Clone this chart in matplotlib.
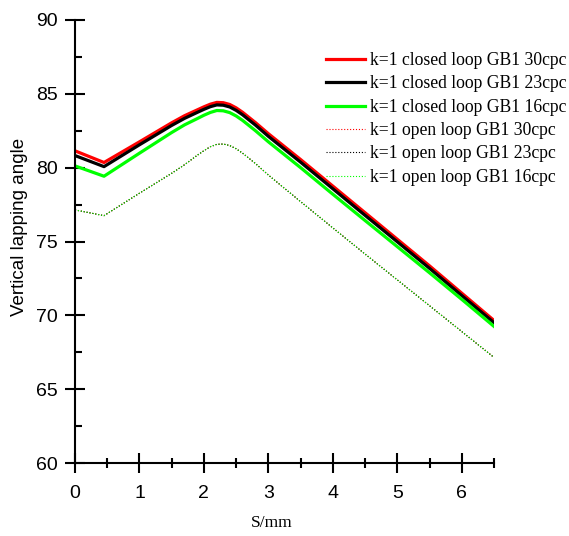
import numpy as np
import matplotlib
matplotlib.use('Agg')
import matplotlib.pyplot as plt
from matplotlib.ticker import MultipleLocator

# S/mm sample points
s_mm = [0.0, 0.45, 1.0, 1.5, 1.7, 1.9, 2.0, 2.1, 2.2, 2.3, 2.4, 2.5, 2.6, 2.8, 3.0,
        3.5, 4.0, 4.5, 5.0, 5.5, 6.0, 6.5]

# closed loop curves
closed_30 = [81.14, 80.35, 81.75, 83.04, 83.52, 83.92, 84.12, 84.30, 84.42, 84.40, 84.28,
             84.05, 83.75, 83.05, 82.30, 80.55, 78.75, 76.95, 75.15, 73.35, 71.50, 69.65]
closed_23 = [80.82, 80.07, 81.55, 82.86, 83.34, 83.75, 83.95, 84.13, 84.25, 84.23, 84.11,
             83.88, 83.58, 82.88, 82.12, 80.37, 78.57, 76.77, 74.98, 73.18, 71.34, 69.50]
closed_16 = [80.12, 79.42, 80.98, 82.38, 82.90, 83.33, 83.55, 83.74, 83.87, 83.85, 83.73,
             83.50, 83.20, 82.50, 81.75, 80.00, 78.20, 76.42, 74.65, 72.88, 71.08, 69.25]

# open loop curves (the three coincide)
open_30 = [77.14, 76.75, 78.27, 79.62, 80.20, 80.85, 81.15, 81.42, 81.58, 81.60, 81.50,
           81.28, 80.98, 80.28, 79.50, 77.70, 75.92, 74.15, 72.40, 70.65, 68.90, 67.15]
open_23 = list(open_30)
open_16 = list(open_30)

labels = ['k=1 closed loop GB1 30cpc', 'k=1 closed loop GB1 23cpc', 'k=1 closed loop GB1 16cpc',
          'k=1 open loop GB1 30cpc', 'k=1 open loop GB1 23cpc', 'k=1 open loop GB1 16cpc']

fig = plt.figure(figsize=(5.69, 5.36), dpi=100)
ax = fig.add_axes([75/569, 73/536, 419/569, 443/536])

ax.plot(s_mm, closed_30, color='#ff0000', lw=2.3, label=labels[0])
ax.plot(s_mm, closed_23, color='black', lw=2.3, label=labels[1])
ax.plot(s_mm, closed_16, color='#00ff00', lw=2.3, label=labels[2])
ax.plot(s_mm, open_30, color='#ff0000', lw=0.8, ls=':', label=labels[3])
ax.plot(s_mm, open_23, color='black', lw=0.8, ls=':', label=labels[4])
ax.plot(s_mm, open_16, color='#00ff00', lw=0.8, ls=':', label=labels[5])

ax.set_xlim(0, 6.5)
ax.set_ylim(60, 90)
ax.spines['top'].set_visible(False)
ax.spines['right'].set_visible(False)
ax.spines['left'].set_linewidth(1.5)
ax.spines['bottom'].set_linewidth(1.5)

ax.xaxis.set_major_locator(MultipleLocator(1))
ax.xaxis.set_minor_locator(MultipleLocator(0.5))
ax.yaxis.set_major_locator(MultipleLocator(5))
ax.yaxis.set_minor_locator(MultipleLocator(2.5))
ax.tick_params(which='major', direction='inout', length=15, width=1.5, pad=5)
ax.tick_params(axis='x', which='major', pad=8)
ax.tick_params(axis='x', which='minor', direction='inout', length=6.5, width=1.5)
ax.tick_params(axis='y', which='minor', direction='in', length=5, width=1.5)
for t in ax.get_xticklabels() + ax.get_yticklabels():
    t.set_fontfamily('Liberation Sans')
    t.set_fontsize(14)

ax.set_xlabel('S/mm', fontfamily='Liberation Serif', fontsize=12.5)
ax.xaxis.set_label_coords((272 - 75) / 419, -(515 - 463) / 443)
ax.set_ylabel('Vertical lapping angle', fontfamily='Liberation Sans', fontsize=13.5)
ax.yaxis.set_label_coords((28 - 75) / 419, (463 - 227) / 443)

leg = fig.legend(loc='upper left', bbox_to_anchor=(326/569, 1 - 52/536), frameon=False,
                 prop={'family': 'Liberation Serif', 'size': 12.7},
                 handlelength=2.2, handletextpad=0.3, labelspacing=0.36,
                 borderpad=0, borderaxespad=0)

fig.savefig('out.png', dpi=100)
